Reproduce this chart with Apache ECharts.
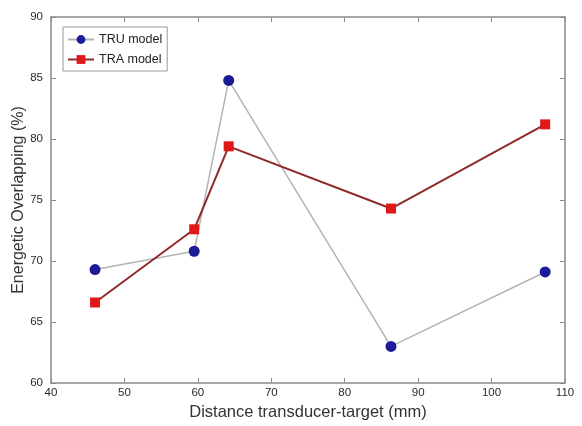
<!DOCTYPE html>
<html>
<head>
<meta charset="utf-8">
<script src="https://cdn.jsdelivr.net/npm/echarts@6/dist/echarts.min.js"></script>
<style>
html, body { margin: 0; padding: 0; background: #fff; }
#chart { width: 582px; height: 426px; }
</style>
</head>
<body>
<div id="chart"></div>
<script>
// data
const distances = [46, 59.5, 64.2, 86.3, 107.3]
const truValues = [69.3, 70.8, 84.8, 63.0, 69.1]
const traValues = [66.6, 72.6, 79.4, 74.3, 81.2]
const xTicks = [40, 50, 60, 70, 80, 90, 100, 110]
const yTicks = [60, 65, 70, 75, 80, 85, 90]

const pairs = (xs, ys) => xs.map((x, i) => [x, ys[i]])

const chart = echarts.init(document.getElementById('chart'))

const axisLine = { lineStyle: { color: '#8a8a8a', width: 1.5 } }
const tickIn = { inside: true, length: 5, lineStyle: { color: '#8a8a8a' } }
const labelStyle = { color: '#2a2a2a', fontSize: 11.5, fontFamily: 'Liberation Sans' }

let option = {
  animation: false,
  grid: { left: 51, right: 17, top: 17, bottom: 43, outerBoundsMode: 'none' },
  legend: {
    left: 63,
    top: 27,
    orient: 'vertical',
    itemGap: 7,
    itemWidth: 26,
    itemHeight: 11,
    padding: [6, 5, 5, 4],
    borderColor: '#999',
    borderWidth: 1,
    backgroundColor: '#fff',
    textStyle: { color: '#222', fontSize: 12.5, fontFamily: 'Liberation Sans' },
    data: ['TRU model', 'TRA model']
  },
  xAxis: [
    {
      type: 'value', min: xTicks[0], max: xTicks[xTicks.length - 1], interval: 10,
      name: 'Distance transducer-target (mm)', nameLocation: 'middle', nameGap: 21,
      nameMoveOverlap: false,
      nameTextStyle: { color: '#333', fontSize: 16.5, fontFamily: 'Liberation Sans' },
      axisLine: axisLine, axisTick: tickIn, axisLabel: Object.assign({ margin: 4 }, labelStyle),
      splitLine: { show: false }
    },
    {
      type: 'value', position: 'top', min: xTicks[0], max: xTicks[xTicks.length - 1], interval: 10,
      axisLine: axisLine, axisTick: tickIn, axisLabel: { show: false },
      splitLine: { show: false }
    }
  ],
  yAxis: [
    {
      type: 'value', min: yTicks[0], max: yTicks[yTicks.length - 1], interval: 5,
      name: 'Energetic Overlapping (%)', nameLocation: 'middle', nameGap: 24, nameRotate: 90,
      nameMoveOverlap: false,
      nameTextStyle: { color: '#333', fontSize: 16, fontFamily: 'Liberation Sans' },
      axisLine: axisLine, axisTick: tickIn, axisLabel: labelStyle,
      splitLine: { show: false }
    },
    {
      type: 'value', position: 'right', min: yTicks[0], max: yTicks[yTicks.length - 1], interval: 5,
      axisLine: axisLine, axisTick: tickIn, axisLabel: { show: false },
      splitLine: { show: false }
    }
  ],
  series: [
    {
      name: 'TRU model',
      type: 'line',
      data: pairs(distances, truValues),
      symbol: 'circle',
      symbolSize: 11,
      itemStyle: { color: '#1c1c99' },
      lineStyle: { color: '#b4b4b4', width: 1.5 }
    },
    {
      name: 'TRA model',
      type: 'line',
      data: pairs(distances, traValues),
      symbol: 'rect',
      symbolSize: 10,
      itemStyle: { color: '#e01818' },
      lineStyle: { color: '#8e2a2a', width: 2 }
    }
  ]
}

chart.setOption(option)
</script>
</body>
</html>
